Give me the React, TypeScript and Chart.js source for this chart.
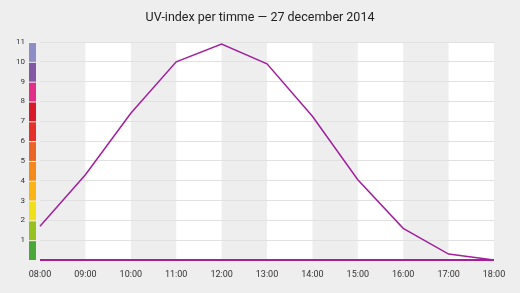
import React, { useEffect, useRef } from "react";
import { Chart, registerables } from "chart.js";

Chart.register(...registerables);

const titleText = "UV-index per timme — 27 december 2014";
const hours = ["08:00", "09:00", "10:00", "11:00", "12:00", "13:00", "14:00", "15:00", "16:00", "17:00", "18:00"];
const uvIndex = [1.7, 4.3, 7.4, 10.0, 10.9, 9.9, 7.25, 4.05, 1.6, 0.3, 0.0];
const baseline = [0, 0, 0, 0, 0, 0, 0, 0, 0, 0, 0];
const yMin = 0;
const yMax = 11;
const uvBandColors = [
  "#4aa83a",
  "#97c11f",
  "#f0e01a",
  "#fbb416",
  "#f5891b",
  "#ec6425",
  "#e5312a",
  "#d9182a",
  "#e32e88",
  "#8257a3",
  "#8d8dc8",
];

const PAGE_BG = "#eeeeee";
const BAND_WHITE = "#ffffff";
const LINE_COLOR = "#a0209e";

const bandsPlugin = {
  id: "bands",
  beforeDraw(chart: any) {
    const { ctx, chartArea, scales } = chart;
    const x = scales.x;
    ctx.save();
    ctx.fillStyle = PAGE_BG;
    ctx.fillRect(0, 0, chart.width, chart.height);
    for (let i = 0; i < hours.length - 1; i++) {
      if (i % 2 === 1) {
        const x0 = x.getPixelForValue(i);
        const x1 = x.getPixelForValue(i + 1);
        ctx.fillStyle = BAND_WHITE;
        ctx.fillRect(x0, chartArea.top, x1 - x0, chartArea.bottom - chartArea.top);
      }
    }
    ctx.restore();
  },
};

const titlePlugin = {
  id: "centerTitle",
  afterDraw(chart: any) {
    const { ctx } = chart;
    ctx.save();
    ctx.fillStyle = "#222222";
    ctx.font = "normal 12.5px Roboto";
    ctx.textAlign = "center";
    ctx.textBaseline = "middle";
    ctx.fillText(titleText, chart.width / 2, 18);
    ctx.restore();
  },
};

const uvScalePlugin = {
  id: "uvScale",
  afterDraw(chart: any) {
    const { ctx, chartArea, scales } = chart;
    const y = scales.y;
    const left = chartArea.left - 11;
    const w = 7;
    ctx.save();
    for (let i = 0; i < uvBandColors.length; i++) {
      const yb = y.getPixelForValue(i);
      const yt = y.getPixelForValue(i + 1);
      ctx.fillStyle = "#f6f6f6";
      ctx.fillRect(left, yt, w, yb - yt);
      ctx.fillStyle = uvBandColors[i];
      ctx.fillRect(left, yt + 1, w, yb - yt - 1);
    }
    ctx.restore();
  },
};

export default function App() {
  const ref = useRef<HTMLCanvasElement | null>(null);

  useEffect(() => {
    document.body.style.margin = "0";
    document.body.style.background = PAGE_BG;
    const canvas = ref.current;
    if (!canvas) return;
    const chart = new Chart(canvas, {
      type: "line",
      data: {
        labels: hours,
        datasets: [
          {
            label: "UV-index",
            data: uvIndex,
            borderColor: LINE_COLOR,
            borderWidth: 1.5,
            pointRadius: 0,
            tension: 0,
            fill: false,
            clip: 4,
          },
          {
            label: "baseline",
            data: baseline,
            borderColor: LINE_COLOR,
            borderWidth: 2,
            pointRadius: 0,
            tension: 0,
            fill: false,
            clip: 4,
          },
        ],
      },
      options: {
        responsive: false,
        animation: false,
        layout: { padding: { left: 0, right: 26, top: 42, bottom: 0 } },
        plugins: {
          legend: { display: false },
          tooltip: { enabled: false },
          title: { display: false },
        },
        scales: {
          x: {
            type: "category",
            offset: false,
            grid: { display: false, drawTicks: false },
            border: { display: false },
            ticks: {
              color: "#333333",
              font: { family: "Roboto", size: 9 },
              padding: 9,
              maxRotation: 0,
              autoSkip: false,
            },
            afterFit(scale: any) {
              scale.height = 33;
            },
          },
          y: {
            min: yMin,
            max: yMax,
            grid: {
              color: (c: any) => (c.tick && c.tick.value === 0 ? "rgba(0,0,0,0)" : "#e1e1e1"),
              lineWidth: 1,
              drawTicks: false,
            },
            border: { display: false },
            ticks: {
              stepSize: 1,
              color: "#333333",
              font: { family: "Roboto", size: 8 },
              padding: 15,
              callback: (v: any) => (v === 0 ? "" : String(v)),
            },
            afterFit(scale: any) {
              scale.width = 40;
            },
          },
        },
      },
      plugins: [bandsPlugin, uvScalePlugin, titlePlugin],
    });
    return () => chart.destroy();
  }, []);

  return (
    <div style={{ width: 520, height: 293, background: PAGE_BG }}>
      <canvas ref={ref} width={520} height={293} />
    </div>
  );
}
